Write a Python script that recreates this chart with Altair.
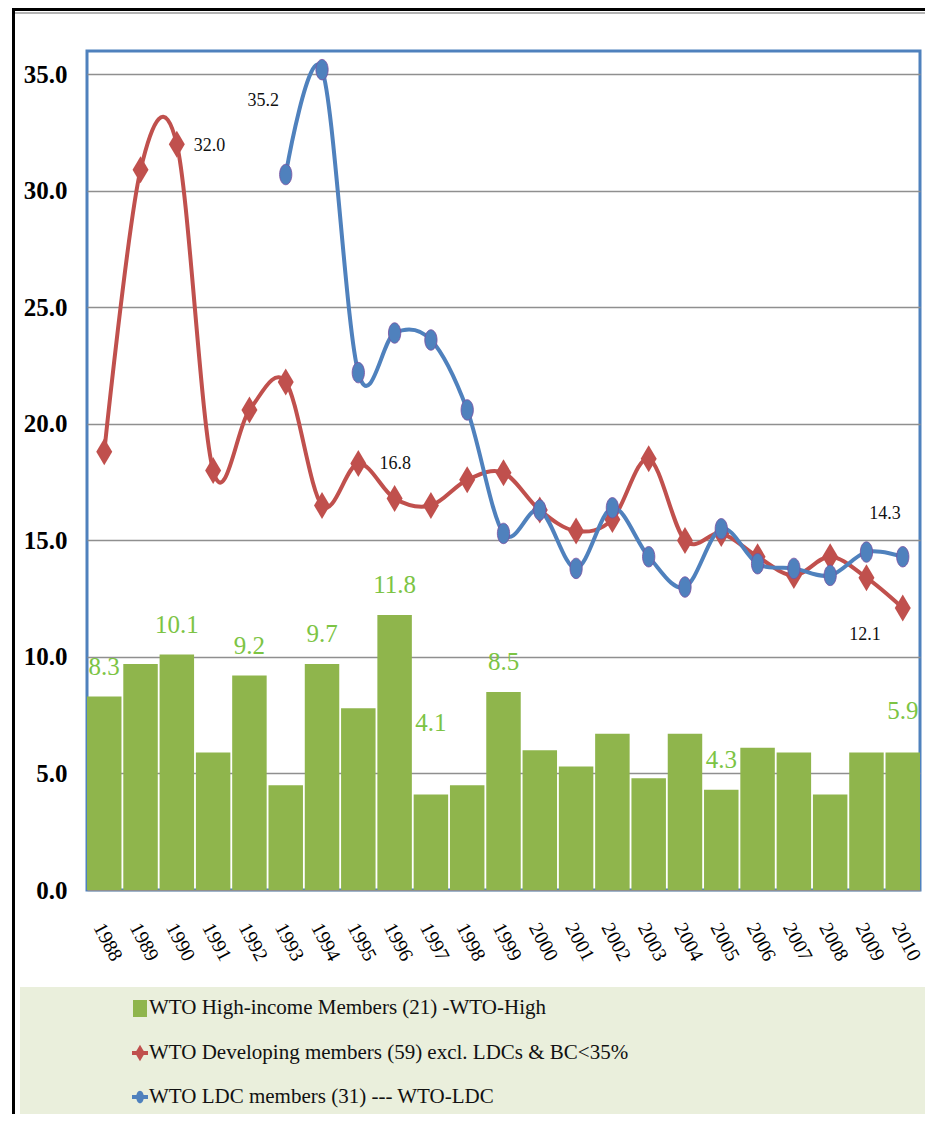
import altair as alt
import pandas as pd

# ---------------- data ----------------
years = [str(y) for y in range(1988, 2011)]
high_income = [8.3, 9.7, 10.1, 5.9, 9.2, 4.5, 9.7, 7.8, 11.8, 4.1, 4.5, 8.5,
               6.0, 5.3, 6.7, 4.8, 6.7, 4.3, 6.1, 5.9, 4.1, 5.9, 5.9]
developing = [18.8, 30.9, 32.0, 18.0, 20.6, 21.8, 16.5, 18.3, 16.8, 16.5, 17.6, 17.9,
              16.3, 15.4, 15.9, 18.5, 15.0, 15.3, 14.3, 13.5, 14.3, 13.4, 12.1]
ldc = [None, None, None, None, None, 30.7, 35.2, 22.2, 23.9, 23.6, 20.6, 15.3,
       16.3, 13.8, 16.4, 14.3, 13.0, 15.5, 14.0, 13.8, 13.5, 14.5, 14.3]
series_names = ["WTO High-income Members (21) -WTO-High",
                "WTO Developing members (59) excl. LDCs & BC<35%",
                "WTO LDC members (31) --- WTO-LDC"]
y_ticks = [0, 5, 10, 15, 20, 25, 30, 35]
green_labels = ["1988", "1990", "1992", "1994", "1996", "1999", "2005"]
green_labels_high = ["2010"]
green_labels_higher = ["1997"]

GREEN = "#8fb54c"
GREEN_TXT = "#7cc444"
RED = "#c0504d"
BLUE = "#4f81bd"
SERIF = "Liberation Serif"

W, H = 833, 839

bars_df = pd.DataFrame({"year": years, "value": high_income})
dev_df = pd.DataFrame({"year": years, "value": developing})
ldc_df = pd.DataFrame({"year": years, "value": ldc}).dropna()

x_enc = alt.X("year:O", sort=years,
              scale=alt.Scale(paddingInner=0.05, paddingOuter=0),
              axis=alt.Axis(title=None, labelAngle=62, labelAlign="left",
                            labelBaseline="middle", labelPadding=34,
                            labelOffset=-6,
                            ticks=False, domain=False, labelFont=SERIF,
                            labelFontSize=20, labelColor="#000"))
y_enc = alt.Y("value:Q",
              scale=alt.Scale(domain=[0, 36], nice=False, zero=True),
              axis=alt.Axis(title=None, values=y_ticks, format=".1f",
                            grid=True, gridColor="#8f8f8f", gridWidth=1.5,
                            domain=False, ticks=False, labelPadding=20,
                            labelFont=SERIF, labelFontSize=25,
                            labelFontWeight="bold", labelColor="#000"))

bars = alt.Chart(bars_df).mark_bar(color=GREEN).encode(x=x_enc, y=y_enc)


def green_text(sel, dy):
    return alt.Chart(bars_df).transform_filter(
        alt.FieldOneOfPredicate(field="year", oneOf=sel)
    ).mark_text(font=SERIF, fontSize=25, color=GREEN_TXT, dy=dy,
                baseline="middle", align="center").encode(
        x="year:O", y="value:Q", text=alt.Text("value:Q", format=".1f"))


DIAMOND = "M0,-1.35L0.8,0L0,1.35L-0.8,0Z"
ELLIPSE = "M-0.6,0A0.6,1,0,1,0,0.6,0A0.6,1,0,1,0,-0.6,0Z"

dev_line = alt.Chart(dev_df).mark_line(color=RED, strokeWidth=4,
                                       interpolate="cardinal").encode(x="year:O", y="value:Q")
dev_pts = alt.Chart(dev_df).mark_point(shape=DIAMOND, filled=True, color=RED,
                                       size=400, opacity=1).encode(x="year:O", y="value:Q")
ldc_line = alt.Chart(ldc_df).mark_line(color=BLUE, strokeWidth=4,
                                       interpolate="cardinal").encode(x="year:O", y="value:Q")
ldc_pts = alt.Chart(ldc_df).mark_point(shape=ELLIPSE, filled=True, color=BLUE,
                                       size=420, opacity=1, stroke="#7a4fa0",
                                       strokeWidth=0.8).encode(x="year:O", y="value:Q")


def note(df, year, dx, dy, align):
    return alt.Chart(df).transform_filter(
        alt.datum.year == year
    ).mark_text(font=SERIF, fontSize=18, color="#111", dx=dx, dy=dy,
                align=align, baseline="middle").encode(
        x="year:O", y="value:Q", text=alt.Text("value:Q", format=".1f"))


notes = [
    note(dev_df, "1990", 17, 2, "left"),
    note(ldc_df, "1994", -43, 31, "right"),
    note(dev_df, "1996", -15, -34, "left"),
    note(ldc_df, "2010", -2, -43, "right"),
    note(dev_df, "2010", -22, 27, "right"),
]

# ---------------- decoration: frame and legend ----------------
one = alt.Data(values=[{"a": 1}])
frame_left = alt.Chart(one).mark_rule(color="#000", strokeWidth=3).encode(
    x=alt.value(-73.5), y=alt.value(-43), y2=alt.value(1070))
frame_top = alt.Chart(one).mark_rule(color="#000", strokeWidth=3).encode(
    x=alt.value(-75), x2=alt.value(850), y=alt.value(-41.5))
frame_top2 = alt.Chart(one).mark_rule(color="#9a9a9a", strokeWidth=1.5).encode(
    x=alt.value(-72), x2=alt.value(850), y=alt.value(-38))

legend_box = alt.Chart(one).mark_rect(color="#eaefdc").encode(
    x=alt.value(-67), x2=alt.value(850), y=alt.value(936), y2=alt.value(1064))

leg_y = [957, 1002, 1046]
leg_sq = alt.Chart(one).mark_rect(color=GREEN).encode(
    x=alt.value(46), x2=alt.value(60), y=alt.value(leg_y[0] - 8), y2=alt.value(leg_y[0] + 9))
leg_r_line = alt.Chart(one).mark_rule(color=RED, strokeWidth=4).encode(
    x=alt.value(45), x2=alt.value(61), y=alt.value(leg_y[1]))
leg_r_pt = alt.Chart(one).mark_point(shape=DIAMOND, filled=True, color=RED, size=150,
                                     opacity=1).encode(x=alt.value(53), y=alt.value(leg_y[1]))
leg_b_line = alt.Chart(one).mark_rule(color=BLUE, strokeWidth=4).encode(
    x=alt.value(45), x2=alt.value(61), y=alt.value(leg_y[2]))
leg_b_pt = alt.Chart(one).mark_point(shape=ELLIPSE, filled=True, color=BLUE, size=160,
                                     opacity=1).encode(x=alt.value(53), y=alt.value(leg_y[2]))
leg_texts = [
    alt.Chart(one).mark_text(text=series_names[i], font=SERIF, fontSize=21,
                             color="#111", align="left", baseline="middle").encode(
        x=alt.value(62), y=alt.value(leg_y[i]))
    for i in range(3)
]

chart = alt.layer(
    legend_box, frame_left, frame_top, frame_top2,
    bars,
    green_text(green_labels, -30),
    green_text(green_labels_high, -41),
    green_text(green_labels_higher, -71),
    dev_line, dev_pts, ldc_line, ldc_pts,
    *notes,
    leg_sq, leg_r_line, leg_r_pt, leg_b_line, leg_b_pt, *leg_texts,
).properties(
    width=W, height=H,
    autosize=alt.AutoSizeParams(type="none"),
    padding={"left": 79, "top": 43, "right": 5, "bottom": 224},
    background="white",
).configure_view(
    stroke=BLUE, strokeWidth=3
).configure_text(font=SERIF).configure_axis(labelFont=SERIF)

chart.save("out.html", embed_options={"renderer": "svg", "actions": False})
